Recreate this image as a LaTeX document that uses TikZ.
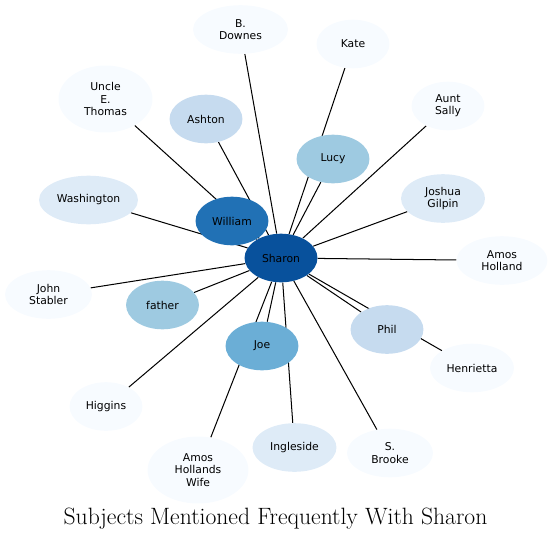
\documentclass[tikz,border=0pt]{standalone}
\usepackage{fontspec}
\newfontfamily\dejavu{DejaVu Sans}
\usepackage{tikz}
\usetikzlibrary{shapes.geometric, backgrounds}
\definecolor{blueA}{HTML}{F7FBFF}
\definecolor{blueB}{HTML}{DEEBF7}
\definecolor{blueC}{HTML}{C6DBEF}
\definecolor{blueD}{HTML}{9ECAE1}
\definecolor{blueE}{HTML}{6BAED6}
\definecolor{blueG}{HTML}{2171B5}
\definecolor{blueH}{HTML}{08519C}
\tikzset{
  subj/.style={
    ellipse, draw=none, fill=blueA, inner sep=0pt,
    minimum width=54pt, minimum height=36pt,
    align=center, font=\dejavu\fontsize{8}{9}\selectfont
  },
  edge/.style={draw=black, line width=0.75pt},
  ttl/.style={font=\fontsize{17.5}{20}\selectfont, anchor=base}
}
\begin{document}
\begin{tikzpicture}[x=0.7407pt, y=-0.7407pt]
\useasboundingbox (0,0) rectangle (552,539);

% Centre
\node[subj, fill=blueH] (sharon) at (281,258) {Sharon};

% Inner ring
\node[subj, fill=blueG] (william) at (232,221) {William};
\node[subj, fill=blueD] (lucy)    at (333,159) {Lucy};
\node[subj, fill=blueC] (ashton)  at (206,119) {Ashton};
\node[subj, fill=blueD] (father)  at (162.5,305) {father};
\node[subj, fill=blueE] (joe)     at (262,346) {Joe};
\node[subj, fill=blueC] (phil)    at (387,329.5) {Phil};

% Outer ring
\node[subj, minimum width=70.3pt] (downes) at (240.5,29.5) {B.\\Downes};
\node[subj] (kate) at (353,44) {Kate};
\node[subj, minimum width=69.6pt, minimum height=49.6pt] (uncle) at (105.5,99) {Uncle\\E.\\Thomas};
\node[subj] (sally) at (448,106) {Aunt\\Sally};
\node[subj, fill=blueB, minimum width=73.3pt] (washington) at (88.5,200) {Washington};
\node[subj, fill=blueB, minimum width=62.2pt] (gilpin) at (443,198.5) {Joshua\\Gilpin};
\node[subj, minimum width=67.3pt] (holland) at (502,260.5) {Amos\\Holland};
\node[subj, minimum width=64.4pt] (stabler) at (48.5,294.5) {John\\Stabler};
\node[subj, minimum width=62.2pt] (henrietta) at (472,368) {Henrietta};
\node[subj] (higgins) at (106,406.5) {Higgins};
\node[subj, minimum width=74.7pt, minimum height=49.6pt] (wife) at (198,470) {Amos\\Hollands\\Wife};
\node[subj, fill=blueB, minimum width=62.2pt] (ingleside) at (294.5,447.5) {Ingleside};
\node[subj, minimum width=63.7pt] (brooke) at (390,453) {S.\\Brooke};

% Edges, all from Sharon
\begin{scope}[on background layer]
  \foreach \n in {william,lucy,ashton,father,joe,phil,downes,kate,uncle,sally,
                  washington,gilpin,holland,stabler,henrietta,higgins,wife,ingleside,brooke}
    \draw[edge] (sharon) -- (\n);
\end{scope}

% Title
\node[ttl] (title) at (275.5,524) {Subjects Mentioned Frequently With Sharon};

\end{tikzpicture}
\end{document}
